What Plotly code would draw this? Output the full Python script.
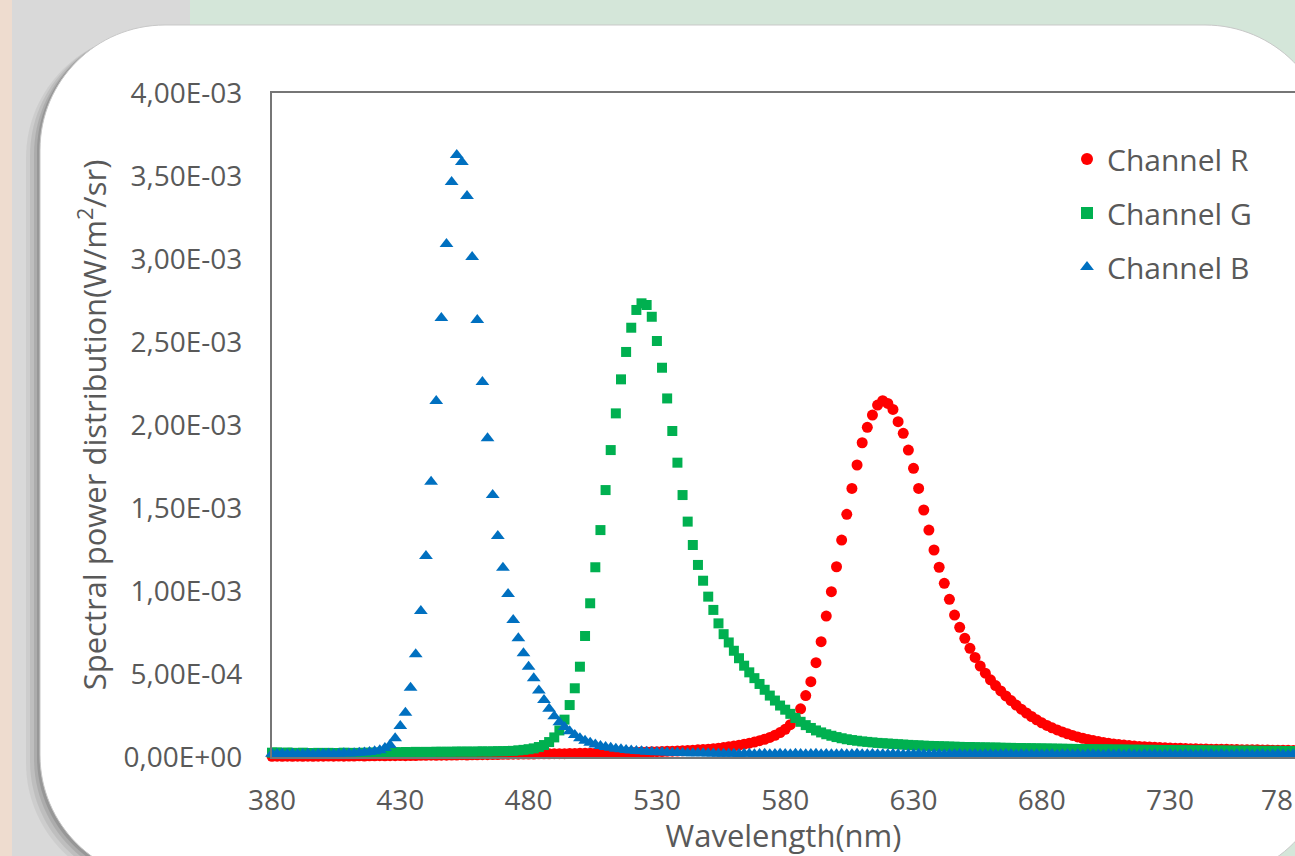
import plotly.graph_objects as go

# ---------------- data (values in 1e-3 W/m^2/sr) ----------------
wavelength_nm = list(range(380, 781, 2))

channel_r = [
    0.004, 0.005, 0.004, 0.005, 0.004, 0.005, 0.004, 0.005, 0.004, 0.005,
    0.005, 0.006, 0.005, 0.006, 0.005, 0.006, 0.006, 0.007, 0.006, 0.007,
    0.007, 0.008, 0.007, 0.008, 0.008, 0.009, 0.008, 0.009, 0.009, 0.010,
    0.010, 0.011, 0.010, 0.011, 0.011, 0.012, 0.012, 0.013, 0.012, 0.013,
    0.013, 0.014, 0.014, 0.015, 0.015, 0.016, 0.016, 0.017, 0.017, 0.018,
    0.018, 0.018, 0.019, 0.019, 0.019, 0.020, 0.020, 0.020, 0.021, 0.021,
    0.022, 0.022, 0.023, 0.023, 0.024, 0.025, 0.026, 0.027, 0.027, 0.028,
    0.028, 0.029, 0.030, 0.030, 0.031, 0.032, 0.033, 0.034, 0.035, 0.036,
    0.037, 0.039, 0.041, 0.043, 0.045, 0.047, 0.050, 0.053, 0.057, 0.061,
    0.066, 0.071, 0.077, 0.083, 0.090, 0.098, 0.107, 0.118, 0.131, 0.147,
    0.167, 0.195, 0.235, 0.290, 0.370, 0.454, 0.568, 0.695, 0.849, 0.996,
    1.146, 1.307, 1.462, 1.618, 1.759, 1.893, 1.986, 2.060, 2.120, 2.146,
    2.130, 2.094, 2.020, 1.950, 1.849, 1.739, 1.618, 1.488, 1.367, 1.247,
    1.143, 1.046, 0.950, 0.855, 0.781, 0.715, 0.655, 0.600, 0.548, 0.505,
    0.465, 0.430, 0.398, 0.368, 0.340, 0.313, 0.288, 0.265, 0.244, 0.224,
    0.206, 0.190, 0.176, 0.163, 0.151, 0.140, 0.130, 0.121, 0.113, 0.106,
    0.099, 0.093, 0.088, 0.083, 0.079, 0.075, 0.072, 0.069, 0.066, 0.064,
    0.062, 0.060, 0.058, 0.057, 0.055, 0.054, 0.053, 0.052, 0.051, 0.050,
    0.049, 0.048, 0.048, 0.047, 0.047, 0.046, 0.046, 0.045, 0.045, 0.044,
    0.044, 0.043, 0.043, 0.042, 0.042, 0.041, 0.041, 0.040, 0.040, 0.039,
    0.039,
]

channel_g = [
    0.026, 0.028, 0.024, 0.027, 0.025, 0.023, 0.026, 0.024, 0.022, 0.025,
    0.023, 0.025, 0.022, 0.024, 0.026, 0.023, 0.025, 0.024, 0.026, 0.025,
    0.027, 0.026, 0.028, 0.027, 0.029, 0.028, 0.030, 0.029, 0.031, 0.030,
    0.031, 0.030, 0.032, 0.031, 0.032, 0.031, 0.033, 0.032, 0.033, 0.032,
    0.033, 0.034, 0.033, 0.034, 0.035, 0.035, 0.036, 0.037, 0.040, 0.043,
    0.047, 0.052, 0.060, 0.072, 0.090, 0.118, 0.160, 0.225, 0.313, 0.414,
    0.544, 0.729, 0.926, 1.143, 1.367, 1.608, 1.849, 2.070, 2.275, 2.440,
    2.586, 2.693, 2.733, 2.723, 2.652, 2.506, 2.345, 2.160, 1.964, 1.773,
    1.578, 1.418, 1.277, 1.157, 1.062, 0.966, 0.886, 0.805, 0.740, 0.690,
    0.640, 0.595, 0.550, 0.510, 0.475, 0.440, 0.405, 0.370, 0.340, 0.310,
    0.285, 0.260, 0.235, 0.212, 0.192, 0.175, 0.160, 0.148, 0.137, 0.128,
    0.120, 0.113, 0.107, 0.102, 0.098, 0.094, 0.091, 0.088, 0.085, 0.083,
    0.081, 0.079, 0.077, 0.075, 0.073, 0.071, 0.070, 0.068, 0.067, 0.066,
    0.065, 0.064, 0.063, 0.062, 0.061, 0.060, 0.060, 0.059, 0.058, 0.058,
    0.057, 0.057, 0.056, 0.055, 0.055, 0.054, 0.054, 0.053, 0.053, 0.052,
    0.052, 0.051, 0.051, 0.050, 0.050, 0.049, 0.049, 0.048, 0.048, 0.047,
    0.047, 0.046, 0.046, 0.046, 0.045, 0.045, 0.045, 0.044, 0.044, 0.044,
    0.043, 0.043, 0.043, 0.042, 0.042, 0.042, 0.041, 0.041, 0.041, 0.040,
    0.040, 0.040, 0.040, 0.039, 0.039, 0.039, 0.039, 0.038, 0.038, 0.038,
    0.038, 0.038, 0.037, 0.037, 0.037, 0.037, 0.037, 0.036, 0.036, 0.036,
    0.036,
]

channel_b = [
    0.020, 0.018, 0.020, 0.017, 0.019, 0.016, 0.018, 0.020, 0.017, 0.018,
    0.020, 0.019, 0.018, 0.020, 0.022, 0.021, 0.023, 0.025, 0.027, 0.030,
    0.034, 0.040, 0.054, 0.072, 0.113, 0.187, 0.267, 0.417, 0.619, 0.880,
    1.211, 1.658, 2.145, 2.645, 3.090, 3.464, 3.627, 3.584, 3.380, 3.012,
    2.633, 2.259, 1.920, 1.578, 1.331, 1.140, 0.982, 0.825, 0.715, 0.625,
    0.544, 0.474, 0.400, 0.343, 0.290, 0.245, 0.210, 0.180, 0.155, 0.132,
    0.113, 0.098, 0.086, 0.076, 0.067, 0.060, 0.055, 0.050, 0.046, 0.042,
    0.039, 0.036, 0.034, 0.032, 0.030, 0.029, 0.028, 0.027, 0.026, 0.025,
    0.024, 0.023, 0.023, 0.022, 0.022, 0.021, 0.021, 0.020, 0.020, 0.019,
    0.020, 0.018, 0.019, 0.020, 0.017, 0.018, 0.019, 0.017, 0.018, 0.020,
    0.018, 0.017, 0.019, 0.018, 0.016, 0.018, 0.019, 0.017, 0.018, 0.016,
    0.017, 0.018, 0.016, 0.017, 0.019, 0.016, 0.017, 0.018, 0.016, 0.017,
    0.016, 0.018, 0.017, 0.015, 0.017, 0.016, 0.018, 0.016, 0.015, 0.017,
    0.016, 0.015, 0.017, 0.016, 0.018, 0.015, 0.016, 0.017, 0.015, 0.016,
    0.017, 0.015, 0.016, 0.018, 0.016, 0.015, 0.017, 0.016, 0.015, 0.016,
    0.015, 0.017, 0.016, 0.014, 0.016, 0.017, 0.015, 0.016, 0.014, 0.016,
    0.017, 0.015, 0.014, 0.016, 0.015, 0.017, 0.014, 0.016, 0.015, 0.014,
    0.016, 0.015, 0.017, 0.014, 0.015, 0.016, 0.014, 0.015, 0.017, 0.015,
    0.014, 0.016, 0.015, 0.017, 0.014, 0.016, 0.015, 0.014, 0.016, 0.015,
    0.017, 0.014, 0.015, 0.016, 0.014, 0.015, 0.017, 0.015, 0.014, 0.016,
    0.015,
]

x_tick_vals = [380, 430, 480, 530, 580, 630, 680, 730]
y_tick_vals = [0, 0.0005, 0.001, 0.0015, 0.002, 0.0025, 0.003, 0.0035, 0.004]
y_tick_text = ["0,00E+00", "5,00E-04", "1,00E-03", "1,50E-03", "2,00E-03",
               "2,50E-03", "3,00E-03", "3,50E-03", "4,00E-03"]

# ---------------- layout geometry ----------------
W, H = 1295, 856
ML, MT, MB = 272, 93, 99
MR = 0
PW, PH = W - ML - MR, H - MT - MB
X_MIN = 380
X_MAX = X_MIN + PW / 2.566


def px(xp):
    return (xp - ML) / PW


def py(yp):
    return (H - MB - yp) / PH


def rounded_path(x0, y0, x1, y1, r):
    k = 0.5523 * r
    pts = [
        ("M", [(x0 + r, y0)]),
        ("L", [(x1 - r, y0)]),
        ("C", [(x1 - r + k, y0), (x1, y0 + r - k), (x1, y0 + r)]),
        ("L", [(x1, y1 - r)]),
        ("C", [(x1, y1 - r + k), (x1 - r + k, y1), (x1 - r, y1)]),
        ("L", [(x0 + r, y1)]),
        ("C", [(x0 + r - k, y1), (x0, y1 - r + k), (x0, y1 - r)]),
        ("L", [(x0, y0 + r)]),
        ("C", [(x0, y0 + r - k), (x0 + r - k, y0), (x0 + r, y0)]),
    ]
    s = ""
    for cmd, ps in pts:
        s += cmd + " " + " ".join(f"{px(a):.5f},{py(b):.5f}" for a, b in ps) + " "
    return s + "Z"


scale = 1e-3
fig = go.Figure()
fig.add_trace(go.Scatter(
    x=wavelength_nm, y=[v * scale for v in channel_r], mode="markers",
    name="Channel R", legendgroup="r", cliponaxis=False,
    marker=dict(symbol="circle", size=11, color="#ff0000"),
))
fig.add_trace(go.Scatter(
    x=wavelength_nm, y=[v * scale for v in channel_g], mode="markers",
    name="Channel G", legendgroup="g", cliponaxis=False,
    marker=dict(symbol="square", size=10, color="#00b050"),
))
fig.add_trace(go.Scatter(
    x=wavelength_nm, y=[v * scale for v in channel_b], mode="markers",
    name="Channel B", legendgroup="b", cliponaxis=False,
    marker=dict(symbol="triangle-up", size=12, color="#0070c0"),
))

shapes = [
    dict(type="rect", xref="paper", yref="paper", x0=px(0), x1=px(190), y0=py(0), y1=py(H),
         fillcolor="#d9d9d9", line=dict(width=0), layer="below"),
    dict(type="rect", xref="paper", yref="paper", x0=px(0), x1=px(12), y0=py(0), y1=py(H),
         fillcolor="#eedccf", line=dict(width=0), layer="below"),
]
for i, (dx, dy, op) in enumerate([(-14, 8, 0.05), (-10, 6, 0.07), (-6, 4, 0.09), (-3, 2, 0.12)]):
    shapes.append(dict(type="path", xref="paper", yref="paper",
                       path=rounded_path(40 + dx, 25 + dy, 1330 + dx, 880 + dy, 125),
                       fillcolor=f"rgba(0,0,0,{op})", line=dict(width=0), layer="below"))
shapes.append(dict(type="path", xref="paper", yref="paper",
                   path=rounded_path(40, 25, 1330, 880, 125),
                   fillcolor="#ffffff", line=dict(color="#c8c8c8", width=1), layer="below"))

font_family = "Open Sans"
gray = "#595959"

fig.update_layout(
    width=W, height=H,
    margin=dict(l=ML, r=MR, t=MT, b=MB, pad=0),
    paper_bgcolor="#d4e6d9",
    plot_bgcolor="rgba(0,0,0,0)",
    shapes=shapes,
    font=dict(family=font_family, size=28, color=gray),
    showlegend=True,
    legend=dict(
        x=px(1067), y=py(133), xanchor="left", yanchor="top",
        bgcolor="rgba(0,0,0,0)", traceorder="grouped", tracegroupgap=12,
        font=dict(family=font_family, size=30, color=gray),
        itemsizing="constant",
    ),
    xaxis=dict(
        range=[X_MIN, X_MAX], tickmode="array", tickvals=x_tick_vals,
        showgrid=False, zeroline=False, showline=True, mirror=True,
        linecolor="#767676", linewidth=2, ticks="", ticklabelstandoff=17,
        tickfont=dict(family=font_family, size=28, color=gray),
        title=dict(text="Wavelength(nm)", standoff=17,
                   font=dict(family=font_family, size=31, color=gray)),
    ),
    yaxis=dict(
        range=[0, 0.004], tickmode="array", tickvals=y_tick_vals, ticktext=y_tick_text,
        showgrid=False, zeroline=False, showline=True, mirror=False,
        linecolor="#767676", linewidth=2, ticks="", ticklabelstandoff=22,
        tickfont=dict(family=font_family, size=28, color=gray),
        title=dict(text="Spectral power distribution(W/m<sup>2</sup>/sr)", standoff=8,
                   font=dict(family=font_family, size=31, color=gray)),
    ),
    annotations=[dict(
        xref="paper", yref="paper", x=px(1295), y=py(799), text="78", showarrow=False,
        xanchor="right", yanchor="middle",
        font=dict(family=font_family, size=28, color=gray),
    )],
)

fig.write_html(
    "out.html",
    config={"displayModeBar": False},
    post_script="document.body.style.margin='0';document.body.style.overflow='hidden';",
)
